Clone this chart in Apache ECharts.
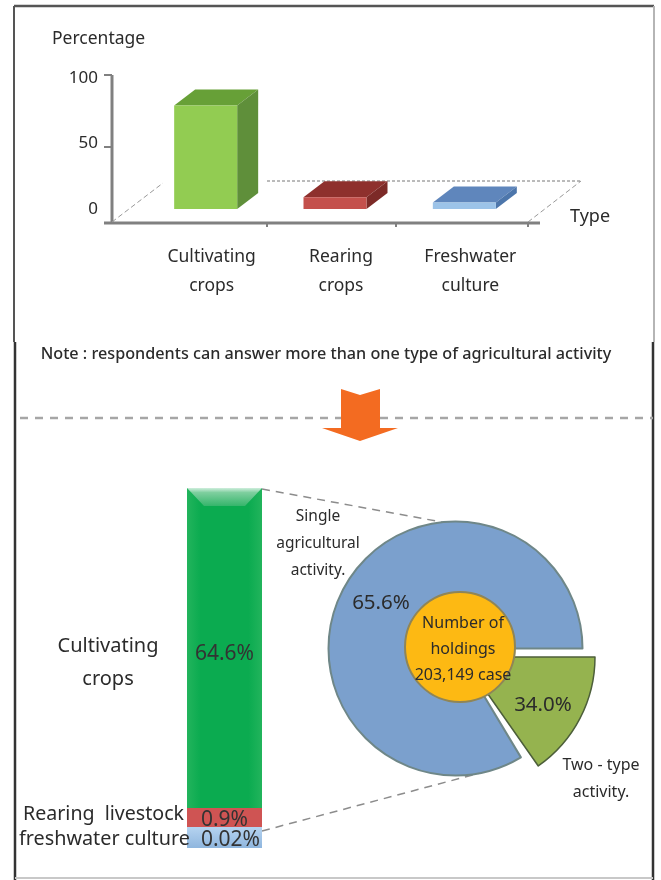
<!DOCTYPE html>
<html>
<head>
<meta charset="utf-8">
<style>html,body{margin:0;padding:0;background:#fff}#chart{width:661px;height:880px}</style>
<script src="https://cdn.jsdelivr.net/npm/echarts@6/dist/echarts.min.js"></script>
</head>
<body>
<div id="chart"></div>
<script>
var FONT = '"Noto Sans", sans-serif';

// upper chart
var typeNames = ['Cultivating\ncrops', 'Rearing\ncrops', 'Freshwater\nculture'];
var typeValues = [79, 9, 5];
var frontColors = ['#92cc52', '#c4504c', '#9cc3e8'];
var topColors = ['#67a037', '#8e302d', '#5f86bc'];
var sideColors = ['#5f8f3a', '#7c2a27', '#4d76ab'];

// lower column: printed labels, and the share of the column each band is drawn with
var columnLabels = ['64.6%', '0.9%', '0.02%'];
var columnDrawn = [88.9, 5.3, 5.8];

// donut: printed labels, and the degrees each slice is drawn with
var donutLabels = ['65.6%', '34.0%'];
var donutDrawn = [301, 55];
var holdings = 203149;

var chart = echarts.init(document.getElementById('chart'));

function renderBar3d(params, api) {
    var i = api.value(0);
    var base = api.coord([i, 0]);
    var top = api.coord([i, api.value(1)]);
    var w = 63, dx = 21, dy = 16;
    var x0 = base[0] - w / 2, x1 = base[0] + w / 2;
    return {
        type: 'group',
        children: [
            {type: 'polygon', shape: {points: [[x0, top[1]], [x1, top[1]], [x1 + dx, top[1] - dy], [x0 + dx, top[1] - dy]]}, style: {fill: topColors[i]}},
            {type: 'polygon', shape: {points: [[x1, top[1]], [x1 + dx, top[1] - dy], [x1 + dx, base[1] - dy], [x1, base[1]]]}, style: {fill: sideColors[i]}},
            {type: 'rect', shape: {x: x0, y: top[1], width: w, height: base[1] - top[1]}, style: {fill: frontColors[i]}}
        ]
    };
}

function line(x1, y1, x2, y2, color, width, dash) {
    return {
        type: 'line', z: 1, silent: true,
        shape: {x1: x1, y1: y1, x2: x2, y2: y2},
        style: {stroke: color, lineWidth: width, lineDash: dash || null}
    };
}

function text(str, x, y, size, align, weight) {
    return {
        type: 'text', z: 20, silent: true, x: x, y: y,
        style: {
            text: str, fill: '#2b2b2b', font: (weight || 'normal') + ' ' + size + 'px ' + FONT,
            align: align || 'center', verticalAlign: 'middle', lineHeight: 27
        }
    };
}

var graphics = [
    // page frame
    line(14, 6, 654, 6, '#555555', 2.5),
    line(14, 6, 14, 342, '#555555', 2),
    line(15, 342, 15, 880, '#333333', 2.5),
    line(654, 6, 654, 342, '#b5b5b5', 2),
    line(653, 342, 653, 880, '#333333', 2.5),
    line(15, 878, 653, 878, '#c8c8c8', 2),
    // axes and floor of the upper chart
    line(112, 75, 112, 223, '#808080', 3),
    line(104, 75, 112, 75, '#808080', 2),
    line(104, 147, 112, 147, '#808080', 2),
    line(104, 223, 540, 223, '#808080', 3),
    line(267, 223, 267, 227, '#808080', 2),
    line(396, 223, 396, 227, '#808080', 2),
    line(528, 223, 528, 227, '#808080', 2),
    line(112, 222, 163, 183, '#999999', 1, [5, 3]),
    line(528, 222, 581, 181, '#999999', 1, [5, 3]),
    line(267, 181, 581, 181, '#777777', 1, [3, 2]),
    // separator and arrow
    line(20, 418, 653, 418, '#a6a6a6', 2.5, [8, 7]),
    {
        type: 'polygon', z: 5, silent: true,
        shape: {points: [[341, 389], [360, 395], [380, 389], [380, 428], [398, 428], [360, 441], [322, 428], [341, 428]]},
        style: {fill: '#f36b21'}
    },
    // leader lines between column and donut
    line(262, 489, 447, 523, '#8c8c8c', 1.5, [8, 6]),
    line(262, 831, 480, 773, '#8c8c8c', 1.5, [8, 6]),
    // top sheen of the column
    {
        type: 'polygon', z: 6, silent: true,
        shape: {points: [[187, 488], [262, 488], [245, 506], [204, 506]]},
        style: {fill: {type: 'linear', x: 0, y: 0, x2: 0, y2: 1, colorStops: [{offset: 0, color: '#cfeedd'}, {offset: 0.25, color: '#7fcf9f'}, {offset: 1, color: '#35b56b'}]}}
    },
    // texts
    text('Percentage', 52, 39, 17.5, 'left'),
    text('Type', 570, 217, 18, 'left'),
    text('Note : respondents can answer more than one type of agricultural activity', 326, 354, 16.2, 'center', 500),
    text('Single\nagricultural\nactivity.', 318, 544, 15.5),
    text('Two - type\nactivity.', 601, 779, 16),
    {
        type: 'text', z: 20, silent: true, x: 108, y: 663,
        style: {text: 'Cultivating\ncrops', fill: '#2b2b2b', font: '20px ' + FONT, align: 'center', verticalAlign: 'middle', lineHeight: 33}
    },
    text('Rearing  livestock', 23, 814, 19.6, 'left'),
    text('freshwater culture', 19, 839, 19.8, 'left'),
    text(donutLabels[0], 381, 603, 20.5),
    text(donutLabels[1], 543, 705, 20.5)
];

function columnBand(i, color) {
    return {
        type: 'bar', xAxisIndex: 1, yAxisIndex: 1, stack: 'column', barWidth: 75, silent: true,
        data: [columnDrawn[i]],
        itemStyle: {color: color},
        label: {
            show: true, position: 'inside', offset: [i === 2 ? 6 : 0, i === 0 ? 6 : 2],
            formatter: columnLabels[i], color: '#333333', fontSize: 21, fontFamily: FONT
        }
    };
}

var option = {
    animation: false,
    backgroundColor: '#ffffff',
    grid: [
        {left: 141, width: 388, top: 78, height: 131},
        {left: 187, width: 75, top: 488, height: 360}
    ],
    xAxis: [
        {
            type: 'category', gridIndex: 0, data: typeNames,
            axisLine: {show: false}, axisTick: {show: false},
            axisLabel: {margin: 34, color: '#2b2b2b', fontSize: 17.5, fontFamily: FONT, lineHeight: 29, padding: [0, 0, 0, 12]}
        },
        {type: 'category', gridIndex: 1, data: ['column'], show: false}
    ],
    yAxis: [
        {
            type: 'value', gridIndex: 0, min: 0, max: 100, interval: 50, offset: 29,
            axisLine: {show: false}, axisTick: {show: false}, splitLine: {show: false},
            axisLabel: {margin: 14, color: '#2b2b2b', fontSize: 17, fontFamily: FONT}
        },
        {type: 'value', gridIndex: 1, min: 0, max: 100, show: false}
    ],
    series: [
        {
            type: 'custom', xAxisIndex: 0, yAxisIndex: 0, silent: true, clip: false,
            renderItem: renderBar3d,
            encode: {x: 0, y: 1},
            data: typeValues.map(function (v, i) { return [i, v]; })
        },
        columnBand(2, {type: 'linear', x: 0, y: 0, x2: 0, y2: 1, colorStops: [{offset: 0, color: '#b5d3f0'}, {offset: 1, color: '#8fb6de'}]}),
        columnBand(1, '#cf5453'),
        columnBand(0, {type: 'linear', x: 0, y: 0, x2: 1, y2: 0, colorStops: [{offset: 0, color: '#22b45c'}, {offset: 0.18, color: '#0bab50'}, {offset: 0.82, color: '#0bab50'}, {offset: 1, color: '#22b45c'}]}),
        {
            type: 'pie', center: [455.5, 648.5], radius: [0, 127], startAngle: 0, clockwise: false, silent: true, z: 3,
            label: {show: false}, labelLine: {show: false},
            data: [
                {value: donutDrawn[0], name: 'Single agricultural activity', itemStyle: {color: '#7ba0cd', borderColor: '#6f8788', borderWidth: 2}},
                {value: 360 - donutDrawn[0], name: 'gap', itemStyle: {color: 'transparent'}}
            ]
        },
        {
            type: 'pie', center: [462, 657], radius: [0, 133], startAngle: 0, clockwise: true, silent: true, z: 3,
            label: {show: false}, labelLine: {show: false},
            data: [
                {value: donutDrawn[1], name: 'Two - type activity', itemStyle: {color: '#95b34f', borderColor: '#4d5f3a', borderWidth: 1.5}},
                {value: 360 - donutDrawn[1], name: 'gap', itemStyle: {color: 'transparent'}}
            ]
        },
        {
            type: 'pie', center: [460, 647], radius: [0, 55], silent: true, z: 4,
            labelLine: {show: false},
            label: {
                show: true, position: 'center', color: '#2b2b2b', fontSize: 16, fontFamily: FONT, lineHeight: 26, offset: [3, 2],
                formatter: 'Number of\nholdings\n' + holdings.toLocaleString('en-US') + ' case'
            },
            data: [{value: holdings, name: 'Number of holdings', itemStyle: {color: '#fdb913', borderColor: '#8f8557', borderWidth: 2}}]
        }
    ],
    graphic: {elements: graphics}
};

chart.setOption(option);
</script>
</body>
</html>
